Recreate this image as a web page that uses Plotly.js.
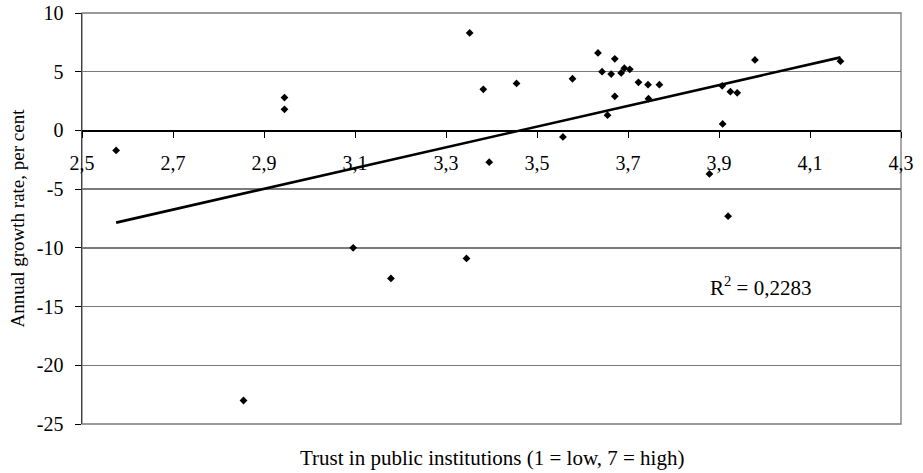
<!DOCTYPE html>
<html>
<head>
<meta charset="utf-8">
<script src="https://cdn.plot.ly/plotly-3.0.1.min.js"></script>
<style>
  html, body { margin: 0; padding: 0; background: #ffffff; }
  #chart { width: 923px; height: 473px; }
</style>
</head>
<body>
<div id="chart"></div>
<script>
// Trust in public institutions (x) vs annual growth rate, per cent (y)
var trustX = [2.575, 2.855, 2.945, 2.945, 3.096, 3.179, 3.345, 3.352, 3.382, 3.395,
              3.455, 3.557, 3.578, 3.634, 3.643, 3.655, 3.663, 3.671, 3.671, 3.685,
              3.692, 3.704, 3.723, 3.744, 3.745, 3.769, 3.879, 3.907, 3.908, 3.920,
              3.925, 3.940, 3.979, 4.167];
var growthY = [-1.7, -23.0, 2.8, 1.8, -10.0, -12.6, -10.9, 8.3, 3.5, -2.7,
               4.0, -0.55, 4.4, 6.6, 5.0, 1.3, 4.8, 6.1, 2.9, 4.9,
               5.3, 5.2, 4.1, 3.9, 2.7, 3.9, -3.7, 3.8, 0.55, -7.3,
               3.3, 3.2, 6.0, 5.9];

// Linear trend line end points (as drawn in the reference)
var trendX = [2.575, 4.167];
var trendY = [-7.85, 6.22];

// Tick labels
var xTickVals = [2.5, 2.7, 2.9, 3.1, 3.3, 3.5, 3.7, 3.9, 4.1, 4.3];
var xTickText = ["2,5", "2,7", "2,9", "3,1", "3,3", "3,5", "3,7", "3,9", "4,1", "4,3"];
var yTickVals = [10, 5, 0, -5, -10, -15, -20, -25];
var yTickText = ["10", "5", "0", "-5", "-10", "-15", "-20", "-25"];

var rSquaredText = "R<sup>2</sup> = 0,2283";
var xTitleText = "Trust in public institutions (1 = low, 7 = high)";
var yTitleText = "Annual growth rate, per cent";

var FONT = "'Liberation Serif', 'Times New Roman', serif";

var traces = [
  {
    type: "scatter",
    mode: "markers",
    x: trustX,
    y: growthY,
    marker: { symbol: "diamond", size: 6, color: "#000000", line: { width: 0 } },
    hoverinfo: "x+y",
    showlegend: false
  },
  {
    type: "scatter",
    mode: "lines",
    x: trendX,
    y: trendY,
    line: { color: "#000000", width: 2.6 },
    hoverinfo: "skip",
    showlegend: false
  }
];

var layout = {
  width: 923,
  height: 473,
  margin: { l: 82, r: 22, t: 13, b: 49, pad: 0 },
  paper_bgcolor: "#ffffff",
  plot_bgcolor: "#ffffff",
  font: { family: FONT, size: 20, color: "#000000" },
  showlegend: false,
  xaxis: {
    range: [2.5, 4.3],
    anchor: "free",
    position: 25 / 35,
    tickmode: "array",
    tickvals: xTickVals,
    ticktext: xTickText,
    ticks: "outside",
    ticklen: 6,
    tickwidth: 1,
    tickcolor: "#000000",
    ticklabelstandoff: 8,
    showline: true,
    linecolor: "#000000",
    linewidth: 1.5,
    showgrid: false,
    zeroline: false,
    fixedrange: true,
    tickfont: { family: FONT, size: 20, color: "#000000" }
  },
  yaxis: {
    range: [-25, 10],
    tickmode: "array",
    tickvals: yTickVals,
    ticktext: yTickText,
    ticks: "outside",
    ticklen: 6,
    tickwidth: 1,
    tickcolor: "#000000",
    ticklabelstandoff: 7,
    showline: true,
    linecolor: "#404040",
    linewidth: 1.5,
    showgrid: true,
    gridcolor: "#7a7a7a",
    gridwidth: 1.3,
    zeroline: false,
    fixedrange: true,
    automargin: false,
    tickfont: { family: FONT, size: 20, color: "#000000" },
    title: { text: yTitleText, standoff: 7, font: { family: FONT, size: 19, color: "#000000" } }
  },
  shapes: [
    {
      type: "rect", xref: "paper", yref: "paper",
      x0: 0, x1: 1, y0: 0, y1: 1,
      line: { color: "#7a7a7a", width: 1.3 },
      layer: "below"
    }
  ],
  annotations: [
    {
      text: rSquaredText,
      xref: "x", yref: "y",
      x: 3.876, y: -13.25,
      xanchor: "left", yanchor: "middle",
      showarrow: false,
      font: { family: FONT, size: 21, color: "#000000" }
    },
    {
      text: xTitleText,
      xref: "paper", yref: "paper",
      x: 0.5, y: 0,
      yshift: -34,
      xanchor: "center", yanchor: "middle",
      showarrow: false,
      font: { family: FONT, size: 21, color: "#000000" }
    }
  ]
};

Plotly.newPlot("chart", traces, layout, { displayModeBar: false, staticPlot: true });
</script>
</body>
</html>
